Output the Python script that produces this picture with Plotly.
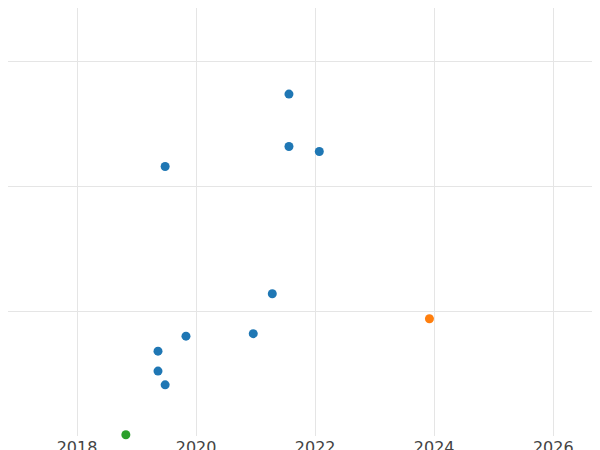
import plotly.graph_objects as go

blue_x = [2021.56, 2021.56, 2022.07, 2019.48, 2021.28, 2020.96, 2019.83, 2019.36, 2019.36, 2019.48]
blue_y = [2.74, 2.32, 2.28, 2.16, 1.14, 0.82, 0.80, 0.68, 0.52, 0.41]
orange_x = [2023.92]
orange_y = [0.94]
green_x = [2018.82]
green_y = [0.01]

fig = go.Figure()
for xs, ys, c in [(blue_x, blue_y, "#1f77b4"), (orange_x, orange_y, "#ff7f0e"), (green_x, green_y, "#2ca02c")]:
    fig.add_trace(go.Scatter(x=xs, y=ys, mode="markers", marker=dict(color=c, size=9), showlegend=False, cliponaxis=False))

fig.update_layout(
    width=600, height=450, margin=dict(l=0, r=0, t=0, b=22, autoexpand=False),
    paper_bgcolor="white", plot_bgcolor="white",
    font=dict(family="DejaVu Sans", size=16, color="#444"),
)
fig.update_xaxes(range=[2016.84, 2026.92], tickvals=[2018, 2020, 2022, 2024, 2026],
                 showgrid=True, gridcolor="#e5e5e5", zeroline=False, showline=False, automargin=False)
fig.update_yaxes(range=[0, 3.43], dtick=1, showticklabels=False, showgrid=True,
                 gridcolor="#e5e5e5", zeroline=False, showline=False, automargin=False)
fig.write_html("out.html")
